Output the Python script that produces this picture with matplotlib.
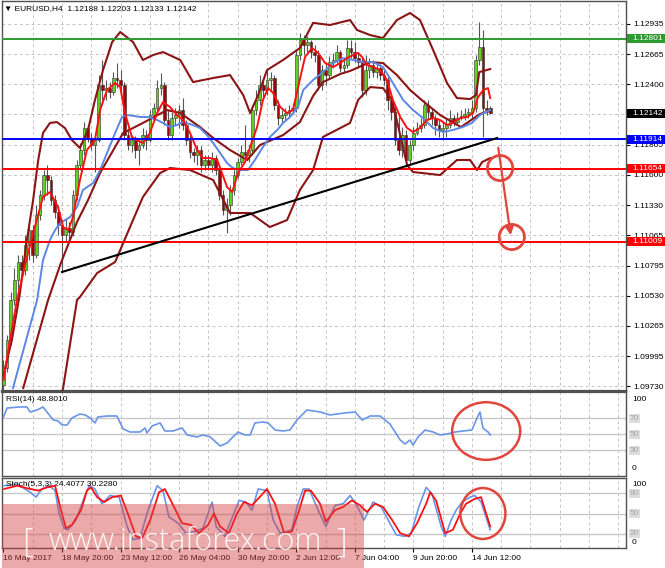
import matplotlib
matplotlib.use('Agg')
import matplotlib.pyplot as plt
import matplotlib.transforms as mtransforms
from matplotlib.patches import Rectangle, Ellipse
import numpy as np

plt.rcParams['font.family'] = ['Liberation Sans', 'DejaVu Sans']

# ---------------- DATA (EURUSD H4) ----------------
opens = [1.09743, 1.09893, 1.10141, 1.10494, 1.10670, 1.10829, 1.10758, 1.10979, 1.11111, 1.10891,
         1.11244, 1.11421, 1.11597, 1.11553, 1.11376, 1.11271, 1.11156, 1.11067, 1.11129, 1.11094,
         1.11421, 1.11685, 1.11818, 1.12012, 1.11924, 1.11862, 1.11906, 1.12392, 1.12348, 1.12365,
         1.12330, 1.12454, 1.12436, 1.12392, 1.11950, 1.11862, 1.11906, 1.11818, 1.11862, 1.11950,
         1.11906, 1.12127, 1.12189, 1.12365, 1.12392, 1.12083, 1.11950, 1.12101, 1.12127, 1.12171,
         1.12039, 1.11906, 1.11800, 1.11774, 1.11818, 1.11685, 1.11730, 1.11685, 1.11747, 1.11641,
         1.11421, 1.11288, 1.11332, 1.11465, 1.11597, 1.11712, 1.11800, 1.11774, 1.11818, 1.12171,
         1.12260, 1.12392, 1.12348, 1.12436, 1.12454, 1.12215, 1.12101, 1.12127, 1.12145, 1.12171,
         1.12189, 1.12657, 1.12789, 1.12745, 1.12772, 1.12683, 1.12657, 1.12392, 1.12524, 1.12480,
         1.12595, 1.12613, 1.12683, 1.12542, 1.12569, 1.12719, 1.12683, 1.12630, 1.12595, 1.12348,
         1.12524, 1.12569, 1.12506, 1.12542, 1.12480, 1.12436, 1.12260, 1.12153, 1.11906, 1.11818,
         1.11950, 1.11730, 1.11862, 1.11968, 1.12012, 1.12039, 1.12215, 1.12153, 1.12101, 1.12039,
         1.11995, 1.12012, 1.12039, 1.12101, 1.12065, 1.12101, 1.12118, 1.12136, 1.12153, 1.12189,
         1.12613, 1.12727, 1.12189, 1.12188]
highs = [1.09964, 1.10185, 1.10564, 1.10776, 1.10891, 1.10891, 1.11067, 1.11183, 1.11156, 1.11332,
         1.11465, 1.11641, 1.11685, 1.11588, 1.11421, 1.11332, 1.11200, 1.11218, 1.11183, 1.11465,
         1.11730, 1.11880, 1.12065, 1.12039, 1.11968, 1.11977, 1.12480, 1.12613, 1.12436, 1.12418,
         1.12506, 1.12586, 1.12524, 1.12418, 1.12012, 1.11950, 1.11941, 1.11906, 1.12012, 1.11995,
         1.12171, 1.12233, 1.12436, 1.12498, 1.12418, 1.12171, 1.12153, 1.12189, 1.12215, 1.12277,
         1.12083, 1.11950, 1.11836, 1.11862, 1.11853, 1.11774, 1.11774, 1.11800, 1.11774, 1.11659,
         1.11465, 1.11394, 1.11509, 1.11641, 1.11747, 1.11862, 1.12039, 1.11862, 1.12215, 1.12348,
         1.12480, 1.12454, 1.12524, 1.12506, 1.12480, 1.12260, 1.12171, 1.12189, 1.12215, 1.12233,
         1.12701, 1.12851, 1.12833, 1.12825, 1.12789, 1.12745, 1.12701, 1.12569, 1.12595, 1.12648,
         1.12675, 1.12745, 1.12701, 1.12630, 1.12789, 1.12789, 1.12772, 1.12683, 1.12630, 1.12657,
         1.12630, 1.12613, 1.12595, 1.12577, 1.12524, 1.12471, 1.12304, 1.12189, 1.12110, 1.12021,
         1.11995, 1.11906, 1.12021, 1.12065, 1.12101, 1.12260, 1.12260, 1.12189, 1.12127, 1.12083,
         1.12065, 1.12101, 1.12171, 1.12127, 1.12153, 1.12171, 1.12189, 1.12189, 1.12260, 1.12657,
         1.12948, 1.12878, 1.12260, 1.12203]
lows = [1.09699, 1.09858, 1.10096, 1.10449, 1.10582, 1.10688, 1.10714, 1.10847, 1.10829, 1.10864,
        1.11200, 1.11376, 1.11421, 1.11332, 1.11218, 1.11067, 1.10741, 1.11006, 1.11023, 1.11059,
        1.11376, 1.11641, 1.11774, 1.11889, 1.11818, 1.11624, 1.11889, 1.12260, 1.12260, 1.12277,
        1.12304, 1.12365, 1.12330, 1.11906, 1.11818, 1.11800, 1.11747, 1.11685, 1.11836, 1.11818,
        1.11889, 1.12083, 1.12153, 1.12304, 1.12039, 1.11906, 1.11906, 1.12039, 1.12012, 1.11995,
        1.11862, 1.11747, 1.11712, 1.11685, 1.11624, 1.11641, 1.11641, 1.11624, 1.11597, 1.11376,
        1.11244, 1.11085, 1.11244, 1.11421, 1.11571, 1.11685, 1.11730, 1.11712, 1.11774, 1.12127,
        1.12215, 1.12286, 1.12304, 1.12348, 1.12171, 1.12039, 1.12065, 1.12083, 1.12101, 1.12136,
        1.12153, 1.12613, 1.12657, 1.12683, 1.12630, 1.12595, 1.12348, 1.12348, 1.12392, 1.12454,
        1.12542, 1.12586, 1.12506, 1.12506, 1.12542, 1.12630, 1.12595, 1.12542, 1.12286, 1.12304,
        1.12454, 1.12462, 1.12454, 1.12436, 1.12392, 1.12171, 1.12083, 1.11862, 1.11774, 1.11756,
        1.11668, 1.11685, 1.11818, 1.11950, 1.11977, 1.12012, 1.12083, 1.12039, 1.11950, 1.11933,
        1.11906, 1.11933, 1.12012, 1.12030, 1.12048, 1.12083, 1.12083, 1.12101, 1.12101, 1.12153,
        1.12569, 1.11933, 1.12127, 1.12133]
closes = [1.09893, 1.10141, 1.10494, 1.10670, 1.10829, 1.10758, 1.10979, 1.11111, 1.10891, 1.11244,
          1.11421, 1.11597, 1.11553, 1.11376, 1.11271, 1.11156, 1.11067, 1.11129, 1.11094, 1.11421,
          1.11685, 1.11818, 1.12012, 1.11924, 1.11862, 1.11906, 1.12392, 1.12348, 1.12365, 1.12330,
          1.12454, 1.12436, 1.12392, 1.11950, 1.11862, 1.11906, 1.11818, 1.11862, 1.11950, 1.11906,
          1.12127, 1.12189, 1.12365, 1.12392, 1.12083, 1.11950, 1.12101, 1.12127, 1.12171, 1.12039,
          1.11906, 1.11800, 1.11774, 1.11818, 1.11685, 1.11730, 1.11685, 1.11747, 1.11641, 1.11421,
          1.11288, 1.11332, 1.11465, 1.11597, 1.11712, 1.11800, 1.11774, 1.11818, 1.12171, 1.12260,
          1.12392, 1.12348, 1.12436, 1.12454, 1.12215, 1.12101, 1.12127, 1.12145, 1.12171, 1.12189,
          1.12657, 1.12789, 1.12745, 1.12772, 1.12683, 1.12657, 1.12392, 1.12524, 1.12480, 1.12595,
          1.12613, 1.12683, 1.12542, 1.12569, 1.12719, 1.12683, 1.12630, 1.12595, 1.12348, 1.12524,
          1.12569, 1.12506, 1.12542, 1.12480, 1.12436, 1.12260, 1.12153, 1.11906, 1.11818, 1.11950,
          1.11730, 1.11862, 1.11968, 1.12012, 1.12039, 1.12215, 1.12153, 1.12101, 1.12039, 1.11995,
          1.12012, 1.12039, 1.12101, 1.12065, 1.12101, 1.12118, 1.12136, 1.12153, 1.12189, 1.12613,
          1.12727, 1.12189, 1.12171, 1.12142]

# fast MA (red)
red_ma_idx = [0, 1.8, 3.7, 5.9, 8.1, 10.8, 12.7, 14.9, 16.3, 17.7, 19, 20.9, 22.8, 25, 26.4, 28.3, 30.5, 31.9,
              33.2, 35.1, 36.5, 38.1, 40, 42, 43.6, 45.5, 47.4, 49.1, 51, 52.9, 54.5, 56.5, 58.4, 59.7, 61.1,
              62.5, 64.1, 66, 67.4, 69.3, 70.9, 72.3, 73.7, 75.6, 77.5, 79.1, 80.5, 82.4, 84.3, 86, 87.9, 90.1,
              92, 93.9, 95.5, 96.9, 98, 99.3, 101, 102.9, 104.8, 106.4, 108.4, 110.3, 111.9, 113.8, 115.7,
              117.4, 119.3, 121.2, 122.8, 124.8, 126.7, 128.3, 129.7, 131.1, 132.4, 133]
red_ma = [1.09787, 1.10141, 1.10494, 1.10803, 1.11085, 1.11403, 1.11447, 1.11315, 1.11138, 1.11111,
          1.11226, 1.11553, 1.11818, 1.11906, 1.12171, 1.12348, 1.12410, 1.12374, 1.12145, 1.11933,
          1.11906, 1.11880, 1.11968, 1.12145, 1.12242, 1.12198, 1.12127, 1.12083, 1.11968, 1.11818,
          1.11747, 1.11747, 1.11730, 1.11615, 1.11491, 1.11447, 1.11615, 1.11712, 1.11845, 1.12021,
          1.12260, 1.12365, 1.12321, 1.12198, 1.12145, 1.12171, 1.12374, 1.12639, 1.12719, 1.12675,
          1.12586, 1.12551, 1.12586, 1.12630, 1.12657, 1.12675, 1.12639, 1.12569, 1.12551, 1.12524,
          1.12436, 1.12260, 1.12110, 1.12012, 1.11977, 1.12012, 1.12083, 1.12101, 1.12083, 1.12039,
          1.12057, 1.12101, 1.12110, 1.12145, 1.12286, 1.12348, 1.12365, 1.12277]

# slower MA (blue)
blue_ma_idx = [2.6, 9.2, 10.8, 12.7, 14.1, 15.5, 18.2, 20.1, 21.7, 24.5, 26.4, 28.3, 30.5, 32.4, 34, 37.3,
               39.5, 42, 43.6, 45.5, 47.4, 49.1, 51.8, 53.7, 55.6, 57.3, 59.2, 61.1, 62.7, 64.6, 66.8, 68.7,
               70.9, 72.8, 74.8, 76.4, 78.3, 80.5, 81.9, 84.6, 87.3, 90.1, 92.8, 95.5, 98.2, 101, 103.7,
               106.4, 109.2, 111.9, 114.6, 117.4, 120.1, 122.8, 125.5, 128, 130.2, 133]
blue_ma = [1.09716, 1.10494, 1.10847, 1.11023, 1.11111, 1.11173, 1.11226, 1.11315, 1.11465, 1.11527,
           1.11641, 1.11792, 1.11968, 1.12110, 1.12127, 1.12110, 1.12110, 1.12083, 1.12057, 1.12021,
           1.12039, 1.12065, 1.12039, 1.12012, 1.11950, 1.11880, 1.11792, 1.11703, 1.11659, 1.11641,
           1.11641, 1.11730, 1.11845, 1.11933, 1.11995, 1.12057, 1.12110, 1.12198, 1.12348, 1.12436,
           1.12506, 1.12586, 1.12630, 1.12613, 1.12595, 1.12595, 1.12551, 1.12410, 1.12260, 1.12171,
           1.12101, 1.12012, 1.11977, 1.11995, 1.12021, 1.12057, 1.12127, 1.12171]

# Bollinger bands (dark red)
bb_up_idx = [0, 2.3, 4.5, 6.4, 8.1, 9.5, 10.8, 12.7, 14.6, 16.8, 18.7, 20.9, 23.1, 25, 27.2, 29.7, 31.9,
             35.4, 38.1, 40.9, 43.6, 48.3, 51.8, 57.3, 61.9, 65.5, 67.4, 69.6, 72, 76.4, 81, 84.6, 89.2,
             94.7, 96.6, 100.2, 103.7, 107.5, 111.1, 113.8, 117.4, 121.2, 123.9, 127.5, 129.1, 130, 133]
bb_up = [1.09831, 1.10141, 1.10555, 1.11023, 1.11376, 1.11730, 1.11968, 1.12057, 1.12065, 1.12012,
         1.11906, 1.11836, 1.11995, 1.12260, 1.12524, 1.12772, 1.12860, 1.12772, 1.12613, 1.12657,
         1.12683, 1.12613, 1.12418, 1.12454, 1.12480, 1.12304, 1.12145, 1.12304, 1.12524, 1.12613,
         1.12719, 1.12941, 1.12922, 1.12966, 1.12878, 1.12833, 1.12807, 1.12966, 1.13028, 1.12966,
         1.12701, 1.12410, 1.12277, 1.12268, 1.12304, 1.12506, 1.12533]
bb_mid_idx = [5.4, 12.2, 15.5, 20.1, 23.1, 26.4, 32.7, 38.1, 44.7, 48.3, 53.7, 57.3, 61.9, 66.6, 70.1,
              76.4, 81, 84.6, 87.3, 92, 94.7, 100.2, 103.7, 107.5, 111.1, 114.6, 119.3, 125, 130.2, 133]
bb_mid = [1.09716, 1.10494, 1.10803, 1.11183, 1.11376, 1.11615, 1.11968, 1.12057, 1.12171, 1.12145,
          1.12021, 1.11924, 1.11818, 1.11730, 1.11862, 1.11950, 1.12065, 1.12295, 1.12418, 1.12489,
          1.12516, 1.12595, 1.12586, 1.12480, 1.12348, 1.12251, 1.12127, 1.12021, 1.12136, 1.12163]
bb_lo_idx = [15.5, 16.3, 20.1, 20.9, 25.6, 30.5, 35.4, 38.1, 42.8, 45.5, 51, 57.3, 61.9, 67.4, 72.8,
             77.5, 81, 84.6, 87.3, 94.7, 96.9, 100.2, 103.7, 106.2, 108.4, 110.3, 111.9, 119.3, 123.9,
             127.5, 129.4, 130.8, 133]
bb_lo = [1.09610, 1.09716, 1.10494, 1.10520, 1.10732, 1.10829, 1.11200, 1.11403, 1.11615, 1.11659,
         1.11641, 1.11553, 1.11262, 1.11262, 1.11138, 1.11200, 1.11465, 1.11641, 1.11933, 1.12057,
         1.12260, 1.12374, 1.12365, 1.12260, 1.11950, 1.11685, 1.11624, 1.11597, 1.11730, 1.11730,
         1.11641, 1.11712, 1.11747]

# RSI(14)
rsi_idx = [0, 1, 4.5, 6.4, 7.3, 9.2, 10.8, 13.6, 14.9, 16, 17.4, 18.7, 20.9, 22.3, 23.7, 25, 25.8, 28.3,
           31, 32.7, 34.6, 37.3, 38.7, 39.2, 40.6, 42.8, 44.1, 46.3, 48.8, 50.2, 52.9, 54.5, 56.5, 59.2,
           61.1, 62.7, 64.1, 66, 67.4, 68.7, 70.9, 72.3, 74.2, 76.4, 78.3, 80.2, 81, 82.9, 86.5, 89.2,
           93.3, 96.1, 98, 100.2, 102.9, 105.6, 107, 108.4, 109.7, 111.1, 111.9, 113.3, 115.2, 117.4,
           119.3, 121.2, 123.4, 125.6, 128, 129.4, 130.2, 131, 132.4, 133]
rsi = [71.3, 82.5, 83.8, 83.8, 77.5, 80, 83.8, 67.5, 66.3, 61.3, 61.3, 70, 75, 73.8, 70, 63.8, 71.3, 72.5,
       72.5, 56.3, 52.5, 52.5, 57.5, 51.3, 60, 63.8, 53.8, 53.8, 57.5, 48.8, 46.3, 48.8, 46.3, 35,
       38.8, 46.3, 52.5, 48.8, 48.8, 63.8, 65, 63.8, 55, 53.8, 55, 67.5, 71.3, 80, 77.5, 73.8,
       76.3, 77.5, 67.5, 72.5, 72.5, 62.5, 52.5, 42.5, 37.5, 42.5, 36.3, 46.3, 55, 52.5,
       48.8, 50, 52.5, 53.8, 55, 70, 77.5, 57.5, 52.5, 48.8]

# Stochastic(5,3,3)
stoch_k_idx = [0.2, 3.7, 7.3, 8.9, 10.5, 12.5, 14.1, 15.2, 16.6, 17.6, 19.8, 22.3, 23.4, 25, 26.9, 29.1,
               31.6, 33.8, 35.4, 37.3, 39.5, 42, 43.6, 45.2, 47.7, 49.9, 52.3, 54.5, 57, 58.1, 60.5, 62.2,
               64.4, 66.3, 67.9, 69.6, 72, 73.7, 75.6, 78.8, 80.2, 81.9, 83.5, 86, 88.1, 90.6, 92.8, 94.7,
               96.3, 98.5, 101, 103.2, 105.6, 107.3, 109.7, 111.4, 113.5, 115.5, 117.1, 119.6, 120.7,
               122.3, 123.7, 125.3, 127.5, 128.8, 130.5, 133]
stoch_k = [91.5, 93.9, 81.7, 74.4, 86.6, 91.5, 84.2, 50, 28, 25.6, 40.2, 76.8, 91.5, 86.6, 64.6, 76.8,
           74.4, 30.5, 11, 13.4, 54.9, 91.5, 84.2, 45.1, 35.4, 20.7, 23.2, 28, 67.1, 30.5, 15.8, 40.2,
           69.5, 67.1, 54.9, 86.6, 84.2, 40.2, 20.7, 25.6, 59.8, 86.6, 86.6, 54.9, 30.5, 62.2, 64.6, 76.8,
           64.6, 40.2, 67.1, 59.8, 35.4, 18.3, 15.8, 20.7, 59.8, 89, 79.3, 30.5, 15.8, 40.2, 54.9, 67.1,
           74.4, 76.8, 67.1, 25.6]
stoch_d_idx = [0.2, 3.7, 7.3, 9.5, 11.9, 14.1, 15.7, 17.1, 18.7, 21.2, 22.8, 23.9, 25.6, 27.5, 29.7,
               32.1, 34.3, 36.2, 37.9, 40.1, 42.5, 44.1, 46.6, 48.8, 51.3, 53.4, 55.9, 57.5, 59.2, 61.6,
               63.8, 65.7, 67.9, 70.4, 72, 74.2, 76.7, 78.8, 80.8, 82.4, 84, 86.5, 88.1, 90.6, 92.8, 95.2,
               97.4, 99.3, 101.5, 103.7, 106.2, 108.4, 110.8, 113, 115.5, 116.6, 118.2, 120.7, 122.8,
               124.8, 126.4, 128.8, 130.5, 133]
stoch_d = [86.6, 91.5, 86.6, 84.2, 89, 91.5, 54.9, 28, 32.9, 54.9, 84.2, 89, 74.4, 67.1, 74.4, 76.8,
           45.1, 15.8, 13.4, 40.2, 81.7, 86.6, 59.8, 35.4, 32.9, 20.7, 32.9, 50, 30.5, 20.7, 50, 67.1,
           62.2, 76.8, 86.6, 64.6, 20.7, 23.2, 54.9, 84.2, 84.2, 64.6, 37.8, 54.9, 59.8, 69.5, 62.2,
           52.4, 64.6, 59.8, 40.2, 20.7, 15.8, 35.4, 64.6, 81.7, 69.5, 20.7, 25.6, 50, 64.6, 72, 74.4,
           30.5]

# axis texts
price_ticks = [1.12935, 1.12665, 1.12400, 1.12135, 1.11865, 1.11600, 1.11330, 1.11065, 1.10795,
               1.10530, 1.10265, 1.09995, 1.09730]
price_tick_labels = ['1.12935', '1.12665', '1.12400', '', '1.11865', '1.11600', '1.11330', '1.11065',
                     '1.10795', '1.10530', '1.10265', '1.09995', '1.09730']
time_tick_idx = [0, 16, 32, 48, 64, 80, 96, 112, 128]
time_tick_labels = ['16 May 2017', '18 May 20:00', '23 May 12:00', '26 May 04:00', '30 May 20:00',
                    '2 Jun 12:00', '7 Jun 04:00', '9 Jun 20:00', '14 Jun 12:00']
levels = [1.12801, 1.11914, 1.11654, 1.11009]
level_colors = ['#2f9a2f', '#0000ff', '#ff0000', '#ff0000']
last_price = 1.12142
trend_idx = [16, 134.9]
trend_px = [1.10741, 1.11924]
arrow_from = (135.1, 1.11862)
arrow_to = (138.7, 1.11041)
circle_centers = [(135.7, 1.11659), (138.9, 1.11050)]

# ---------------- FIGURE ----------------
W, H = 665, 568
fig = plt.figure(figsize=(W / 100, H / 100), dpi=100)


def fx(px):
    return px / W


def fy(py):
    return 1 - py / H


L, R = 2, 626
ax = fig.add_axes([fx(L), fy(391), fx(R) - fx(L), fy(1) - fy(391)])
ax_rsi = fig.add_axes([fx(L), fy(476), fx(R) - fx(L), fy(392) - fy(476)])
ax_st = fig.add_axes([fx(L), fy(548), fx(R) - fx(L), fy(478) - fy(548)])

XL = (-0.4, 170.1)
grid_kw = dict(color='#c4c4c4', lw=0.7, ls=(0, (3, 3)), zorder=0)
for a in (ax, ax_rsi, ax_st):
    a.set_xlim(*XL)
    for v in range(8, 171, 8):
        a.axvline(v, **grid_kw)
    for s in a.spines.values():
        s.set_color('#505050')
        s.set_linewidth(1.0)
    a.tick_params(axis='x', bottom=False, labelbottom=False)

# main price panel
ax.set_ylim(1.09690, 1.13134)
for p in price_ticks:
    ax.axhline(p, **grid_kw)
ax.yaxis.tick_right()
ax.set_yticks(price_ticks)
ax.set_yticklabels(price_tick_labels)
ax.tick_params(axis='y', length=3, width=0.8, pad=2, labelsize=6, direction='out')
ax.spines['bottom'].set_linewidth(1.6)

o = np.array(opens); h = np.array(highs); l = np.array(lows); c = np.array(closes)
idx = np.arange(len(c))
up = c >= o
ax.vlines(idx, l, h, color='#555555', lw=0.8, zorder=2)
body = np.maximum(np.abs(c - o), 0.00003)
ax.bar(idx[up], body[up], bottom=o[up], width=0.72, color='#62d020', edgecolor='#303030', lw=0.4, zorder=3)
ax.bar(idx[~up], body[~up], bottom=c[~up], width=0.72, color='#a00000', edgecolor='#303030', lw=0.4, zorder=3)

dark = '#8b1515'
ax.plot(bb_up_idx, bb_up, color=dark, lw=1.5, zorder=4)
ax.plot(bb_lo_idx, bb_lo, color=dark, lw=1.5, zorder=4)
ax.plot(bb_mid_idx, bb_mid, color=dark, lw=1.5, zorder=4)
ax.plot(blue_ma_idx, blue_ma, color='#5b86e5', lw=1.4, zorder=5)
ax.plot(red_ma_idx, red_ma, color='#ff1010', lw=1.4, zorder=6)

for lv, col in zip(levels, level_colors):
    ax.axhline(lv, color=col, lw=1.4, zorder=7)
ax.plot(trend_idx, trend_px, color='black', lw=1.5, zorder=7)

ann = '#e2453c'
ax.annotate('', xy=arrow_to, xytext=arrow_from,
            arrowprops=dict(arrowstyle='-|>', color=ann, lw=1.6, mutation_scale=11), zorder=8)
for cx, cy in circle_centers:
    ax.add_patch(Ellipse((cx, cy), 6.9, 0.00222, fill=False, ec=ann, lw=2.0, zorder=8))

trans = mtransforms.blended_transform_factory(ax.transAxes, ax.transData)
box_labels = [(1.12801, '1.12801', '#2f9a2f'), (last_price, '1.12142', '#000000'),
              (1.11914, '1.11914', '#0000ff'), (1.11654, '1.11654', '#ff0000'),
              (1.11009, '1.11009', '#ff0000')]
for val, txt, col in box_labels:
    ax.add_patch(Rectangle((1.0016, val - 0.00041), 0.062, 0.00082, transform=trans, fc=col,
                           ec='none', clip_on=False, zorder=10))
    ax.text(1.0096, val, txt, transform=trans, color='white', fontsize=6, va='center', ha='left',
            clip_on=False, zorder=11)

ax.text(0.004, 0.981, '\u25BC EURUSD,H4  1.12188 1.12203 1.12133 1.12142', transform=ax.transAxes,
        fontsize=6, va='center', ha='left', zorder=12)

# RSI panel
ax_rsi.set_ylim(-2.5, 102.5)
ax_rsi.set_yticks([])
for lv in (70, 50, 30):
    ax_rsi.axhline(lv, color='#c8c8c8', lw=1.0, zorder=1)
ax_rsi.plot(rsi_idx, rsi, color='#6a95e8', lw=1.2, zorder=3)
ax_rsi.add_patch(Ellipse((131.9, 53.7), 18.6, 72, fill=False, ec=ann, lw=1.8, zorder=5))
ax_rsi.text(0.007, 0.905, 'RSI(14) 48.8010', transform=ax_rsi.transAxes, fontsize=6, va='center')
ax_rsi.spines['top'].set_linewidth(1.6)

# Stochastic panel
ax_st.set_ylim(-1.5, 103)
ax_st.set_yticks([])
for lv in (80, 50, 20):
    ax_st.axhline(lv, color='#c8c8c8', lw=1.0, zorder=1)
ax_st.plot(stoch_k_idx, stoch_k, color='#6a95e8', lw=1.2, zorder=3)
ax_st.plot(stoch_d_idx, stoch_d, color='#ff1010', lw=1.3, zorder=4)
ax_st.add_patch(Ellipse((131.0, 50), 12.3, 76, fill=False, ec=ann, lw=1.8, zorder=5))
ax_st.text(0.007, 0.914, 'Stoch(5,3,3) 24.4077 30.2280', transform=ax_st.transAxes, fontsize=6,
           va='center')
ax_st.set_xticks(time_tick_idx)
ax_st.set_xticklabels(time_tick_labels, ha='left')
ax_st.tick_params(axis='x', bottom=True, labelbottom=True, length=3, width=0.8, pad=2, labelsize=6)


def side_labels(a, plain, boxed):
    tr = mtransforms.blended_transform_factory(a.transAxes, a.transData)
    for val, txt in plain:
        a.text(1.0096, val, txt, transform=tr, fontsize=6, va='center', ha='left', clip_on=False)
    for val, txt in boxed:
        a.text(1.0064, val, txt, transform=tr, fontsize=6, va='center', ha='left', clip_on=False,
               color='#a8a8a8', bbox=dict(boxstyle='square,pad=0.12', fc='#dcdcdc', ec='none'))


side_labels(ax_rsi, [(93, '100'), (7, '0')], [(70, '70'), (50, '50'), (30, '30')])
side_labels(ax_st, [(93, '100'), (7, '0')], [(80, '80'), (50, '50'), (20, '20')])

# watermark
fig.add_artist(Rectangle((fx(2), 0), fx(364) - fx(2), fy(504), transform=fig.transFigure,
                         fc=(0.83, 0.25, 0.25), alpha=0.45, ec='none', zorder=20))
wm = dict(color='white', alpha=0.9, va='baseline', ha='left', zorder=21,
          family=['Open Sans', 'DejaVu Sans'], fontweight='light')
fig.text(fx(22), fy(552), '[', fontsize=24, **wm)
fig.text(fx(49), fy(550), 'www.instaforex.com', fontsize=22, **wm)
fig.text(fx(336), fy(552), ']', fontsize=24, **wm)

fig.savefig('out.png', dpi=100)
